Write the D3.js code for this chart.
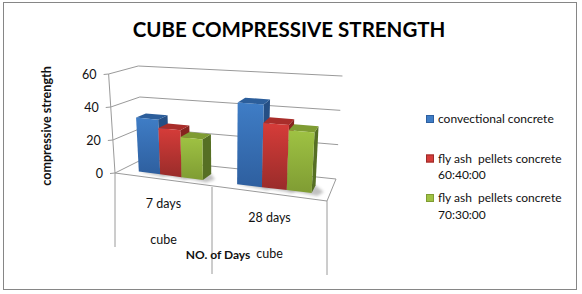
<!DOCTYPE html>
<html lang="en">
<head>
    <meta charset="UTF-8">
    <title>Cube compressive strength</title>
    <script src="https://d3js.org/d3.v7.min.js"></script>
    <style>
        html, body { margin: 0; padding: 0; background: #fff; }
        svg { display: block; }
        text { font-family: Lato, "Open Sans", sans-serif; fill: #111; }
    </style>
</head>
<body>
    <svg width="582" height="294"></svg>
    <script>
        const categories = ["7 days", "28 days"];
        const subCategory = "cube";
        const seriesNames = ["convectional concrete", "fly ash  pellets concrete 60:40:00", "fly ash  pellets concrete 70:30:00"];
        const values7 = [33, 28, 24];
        const values28 = [47.5, 37, 34];
        const yTicks = [0, 20, 40, 60];

        const front = ["#3f7dc6", "#d63c39", "#9fc243"];
        const frontDark = ["#2e5f9f", "#992c2a", "#7f9c33"];
        const topFace = ["#2c5e9b", "#a92d2a", "#7f9c33"];
        const sideFace = ["#254f85", "#86241f", "#566f24"];

        const svg = d3.select("svg");

        // floor of the 3d box, u runs along the categories, v goes into the depth
        const xFront = d3.scaleLinear().domain([0, 1, 2]).range([115, 212, 327]);
        const xBack = d3.scaleLinear().domain([0, 1, 2]).range([143, 235, 336]);
        const yFront = d3.scaleLinear().domain([0, 2]).range([173, 201]);
        const yBack = d3.scaleLinear().domain([0, 2]).range([159, 179]);
        const hFront = d3.scaleLinear().domain([0, 2]).range([99, 109]);
        const hBack = d3.scaleLinear().domain([0, 2]).range([93, 103]);
        const valueScale = d3.scaleLinear().domain([0, 60]).range([0, 1]);
        const spread = d3.scaleLinear().domain([0, 60]).range([0, 0.058]);

        function project(u, v, z) {
            const x0 = xFront(u) + (xBack(u) - xFront(u)) * v;
            const y0 = yFront(u) + (yBack(u) - yFront(u)) * v;
            const h = hFront(u) + (hBack(u) - hFront(u)) * v;
            return [x0 + (x0 - 225) * spread(z), y0 - h * valueScale(z)];
        }
        const line = d3.line();
        const poly = pts => line(pts) + "Z";

        const defs = svg.append("defs");
        front.forEach((c, i) => {
            const g = defs.append("linearGradient").attr("id", "grad" + i)
                .attr("x1", 0).attr("y1", 0).attr("x2", 0).attr("y2", 1);
            g.append("stop").attr("offset", "0%").attr("stop-color", c);
            g.append("stop").attr("offset", "100%").attr("stop-color", frontDark[i]);
        });
        defs.append("filter").attr("id", "soft")
            .attr("x", "-30%").attr("y", "-100%").attr("width", "160%").attr("height", "300%")
            .append("feGaussianBlur").attr("stdDeviation", 1.4);

        // outer border
        svg.append("rect").attr("x", 3.5).attr("y", 2.5).attr("width", 573).attr("height", 287)
            .attr("fill", "#fff").attr("stroke", "#868686");

        // title
        svg.append("text").attr("x", 289).attr("y", 37).attr("text-anchor", "middle")
            .attr("font-size", 20.5).attr("font-weight", 700).style("fill", "#000")
            .text("CUBE COMPRESSIVE STRENGTH");

        const grid = svg.append("g").attr("fill", "none").attr("stroke", "#9a9a9a").attr("stroke-width", 1);

        yTicks.forEach(t => {
            grid.append("path").attr("d", line([project(0, 0, t), project(0, 1, t), project(2, 1, t)]));
            const p = project(0, 0, t);
            grid.append("path").attr("d", line([[p[0] - 5, p[1] + 0.5], p]));
            svg.append("text").attr("x", p[0] - 12).attr("y", p[1] + 5)
                .attr("text-anchor", "end").attr("font-size", 12.5).text(t);
        });
        // y axis edge and floor
        grid.append("path").attr("d", line([project(0, 0, 60), project(0, 0, 0)]));
        grid.append("path").attr("d", line([project(0, 0, 0), project(2, 0, 0), project(2, 1, 0)]));
        // label separators under the floor
        [0, 1, 2].forEach(u => {
            const p = project(u, 0, 0);
            const drop = u === 0 ? 74 : (u === 1 ? 87 : 74);
            grid.append("path").attr("d", line([p, [p[0], p[1] + drop]]));
        });

        // bars
        const band = d3.scaleBand().domain(d3.range(3)).range([0.17, 0.84]);
        const vNear = 0.27, vFar = 0.62;
        const bars = svg.append("g");
        [values7, values28].forEach((vals, c) => {
            vals.forEach((val, i) => {
                const u0 = c + band(i), u1 = u0 + band.bandwidth();
                const gb = bars.append("g");
                gb.append("path")
                    .attr("d", poly([project(u0, vNear, 0), project(u1 + 0.06, vNear - 0.1, 0), project(u1 + 0.1, vNear + 0.1, 0), project(u1, vFar, 0)]))
                    .attr("fill", "#777").attr("opacity", 0.45).attr("filter", "url(#soft)");
                gb.append("path")
                    .attr("d", poly([project(u1, vNear, 0), project(u1, vFar, 0), project(u1, vFar, val), project(u1, vNear, val)]))
                    .attr("fill", sideFace[i]);
                gb.append("path")
                    .attr("d", poly([project(u0, vNear, val), project(u1, vNear, val), project(u1, vFar, val), project(u0, vFar, val)]))
                    .attr("fill", topFace[i]);
                gb.append("path")
                    .attr("d", poly([project(u0, vNear, 0), project(u1, vNear, 0), project(u1, vNear, val), project(u0, vNear, val)]))
                    .attr("fill", `url(#grad${i})`);
            });
        });

        // category labels
        const catLabels = svg.append("g").attr("font-size", 12.5).attr("text-anchor", "middle");
        categories.forEach((c, i) => {
            const p = project(i + 0.5, 0, 0);
            catLabels.append("text").attr("x", p[0]).attr("y", p[1] + 28).text(c);
            catLabels.append("text").attr("x", p[0]).attr("y", p[1] + 64).text(subCategory);
        });

        // axis titles
        svg.append("text").attr("x", 218).attr("y", 259).attr("text-anchor", "middle")
            .attr("font-size", 12).attr("font-weight", 700).text("NO. of Days");
        svg.append("text").attr("transform", "translate(51,126) rotate(-90)").attr("text-anchor", "middle")
            .attr("font-size", 12.6).attr("font-weight", 700).text("compressive strength");

        // legend
        const legendY = d3.scalePoint().domain(seriesNames).range([119, 198]);
        seriesNames.forEach((name, i) => {
            const y = legendY(name);
            svg.append("rect").attr("x", 426).attr("y", y - 4).attr("width", 8).attr("height", 8).attr("fill", front[i]);
            svg.append("rect").attr("x", 426.5).attr("y", y - 3.5).attr("width", 7).attr("height", 7)
                .attr("fill", "none").attr("stroke", frontDark[i]);
            const m = name.match(/^(.*concrete)\s(.+)$/);
            const lines = m ? [m[1], m[2]] : [name];
            lines.forEach((l, k) => {
                svg.append("text").attr("x", 438).attr("y", y + 4 + k * 16.5)
                    .attr("font-size", 12).style("white-space", "pre").text(l);
            });
        });
    </script>
</body>
</html>
